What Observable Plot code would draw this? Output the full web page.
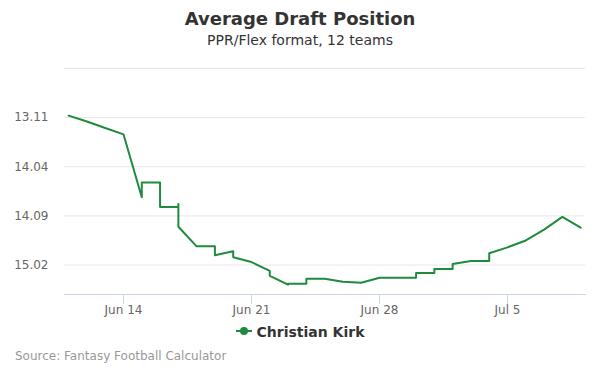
<!DOCTYPE html>
<html>
<head>
<meta charset="utf-8">
<script src="https://cdn.jsdelivr.net/npm/d3@7"></script>
<script src="https://cdn.jsdelivr.net/npm/@observablehq/plot@0.6"></script>
<style>
  body { margin: 0; background: #fff; font-family: "DejaVu Sans", sans-serif; }
  #wrap { position: relative; width: 600px; height: 375px; background: #fff; overflow: hidden; }
  #chart { position: absolute; left: 0; top: 0; }
  .title { position: absolute; left: 0; width: 600px; top: 10px; text-align: center; font-size: 18px; line-height: 18px; font-weight: bold; color: #333; }
  .subtitle { position: absolute; left: 0; width: 600px; top: 33px; text-align: center; font-size: 14px; line-height: 14px; color: #333; }
  .legend { position: absolute; left: 0; width: 600px; top: 325px; text-align: center; font-size: 14px; line-height: 14px; font-weight: bold; color: #333; white-space: nowrap; }
  .legend svg { vertical-align: middle; margin-right: 5px; position: relative; top: -2px; }
  .source { position: absolute; left: 15px; top: 350px; font-size: 12px; line-height: 12px; color: #999; }
</style>
</head>
<body>
<div id="wrap">
  <div id="chart"></div>
  <div class="title">Average Draft Position</div>
  <div class="subtitle">PPR/Flex format, 12 teams</div>
  <div class="legend" id="legend"></div>
  <div class="source">Source: Fantasy Football Calculator</div>
</div>
<script>
// ---- Data ----
const seriesName = "Christian Kirk";
const dates = [
  "2021-06-11T00:00Z","2021-06-12T00:00Z","2021-06-13T00:00Z","2021-06-14T00:00Z",
  "2021-06-15T00:00Z","2021-06-15T00:01Z",
  "2021-06-16T00:00Z","2021-06-16T00:01Z",
  "2021-06-17T00:00Z","2021-06-17T00:01Z","2021-06-17T00:02Z",
  "2021-06-18T00:00Z",
  "2021-06-19T00:00Z","2021-06-19T00:01Z",
  "2021-06-20T00:00Z","2021-06-20T00:01Z",
  "2021-06-21T00:00Z",
  "2021-06-22T00:00Z","2021-06-22T00:01Z",
  "2021-06-23T00:00Z","2021-06-23T00:01Z",
  "2021-06-24T00:00Z","2021-06-24T00:01Z",
  "2021-06-25T00:00Z","2021-06-26T00:00Z","2021-06-27T00:00Z","2021-06-28T00:00Z","2021-06-29T00:00Z",
  "2021-06-30T00:00Z","2021-06-30T00:01Z",
  "2021-07-01T00:00Z","2021-07-01T00:01Z",
  "2021-07-02T00:00Z","2021-07-02T00:01Z",
  "2021-07-03T00:00Z",
  "2021-07-04T00:00Z","2021-07-04T00:01Z",
  "2021-07-05T00:00Z","2021-07-06T00:00Z","2021-07-07T00:00Z","2021-07-08T00:00Z","2021-07-09T00:00Z"
];
const picks = [
  154.8, 155.4, 156.05, 156.7,
  163.1, 161.6,
  161.6, 164.1,
  164.1, 163.8, 166.1,
  168.1,
  168.1, 169.0,
  168.6, 169.2,
  169.7,
  170.6, 171.1,
  172.0, 171.9,
  171.9, 171.4,
  171.4, 171.7, 171.8, 171.3, 171.3,
  171.3, 170.8,
  170.8, 170.4,
  170.4, 169.9,
  169.6,
  169.6, 168.8,
  168.2, 167.5, 166.4, 165.1, 166.2
];
const yGridValues = [150, 155, 160, 165, 170];
const yTickValues = [155, 160, 165, 170];
const yTickLabels = ["13.11", "14.04", "14.09", "15.02"];
const yDomain = [150, 173];
const xTickDates = ["2021-06-14T00:00Z", "2021-06-21T00:00Z", "2021-06-28T00:00Z", "2021-07-05T00:00Z"];
const xTickLabels = ["Jun 14", "Jun 21", "Jun 28", "Jul 5"];
const xDomain = ["2021-06-10T18:35Z", "2021-07-09T06:22Z"];

// ---- Build ----
const lineColor = "#1e8c3c";
const data = dates.map((d, i) => ({date: new Date(d), pick: picks[i]}));
const xTicks = xTickDates.map(d => new Date(d));
const xLabelMap = new Map(xTicks.map((d, i) => [+d, xTickLabels[i]]));
const yLabelMap = new Map(yTickValues.map((v, i) => [v, yTickLabels[i]]));

const chart = Plot.plot({
  width: 600,
  height: 375,
  marginTop: 68,
  marginBottom: 81,
  marginLeft: 64,
  marginRight: 15,
  style: {fontFamily: "DejaVu Sans, sans-serif", fontSize: "12px", color: "#666", background: "transparent"},
  x: {type: "utc", domain: xDomain.map(d => new Date(d))},
  y: {domain: yDomain, reverse: true},
  marks: [
    Plot.gridY(yGridValues, {stroke: "#e6e6e6", strokeOpacity: 1, strokeWidth: 1}),
    Plot.axisY(yTickValues, {tickSize: 0, tickPadding: 16, tickFormat: d => yLabelMap.get(d), fill: "#666", label: null}),
    Plot.frame({anchor: "bottom", stroke: "#ccd6eb", strokeWidth: 1}),
    Plot.axisX(xTicks, {tickSize: 10, tickPadding: 1, stroke: "#ccd6eb", strokeOpacity: 1, tickFormat: d => xLabelMap.get(+d), fill: "#666", label: null}),
    Plot.line(data, {x: "date", y: "pick", stroke: lineColor, strokeWidth: 2, strokeLinejoin: "round", strokeLinecap: "round"})
  ]
});
document.getElementById("chart").appendChild(chart);

// legend
const legend = document.getElementById("legend");
legend.innerHTML = `<svg width="16" height="10"><line x1="0" y1="5" x2="16" y2="5" stroke="${lineColor}" stroke-width="2"/><circle cx="8" cy="5" r="4" fill="${lineColor}"/></svg>`;
legend.appendChild(document.createTextNode(seriesName));
</script>
</body>
</html>
